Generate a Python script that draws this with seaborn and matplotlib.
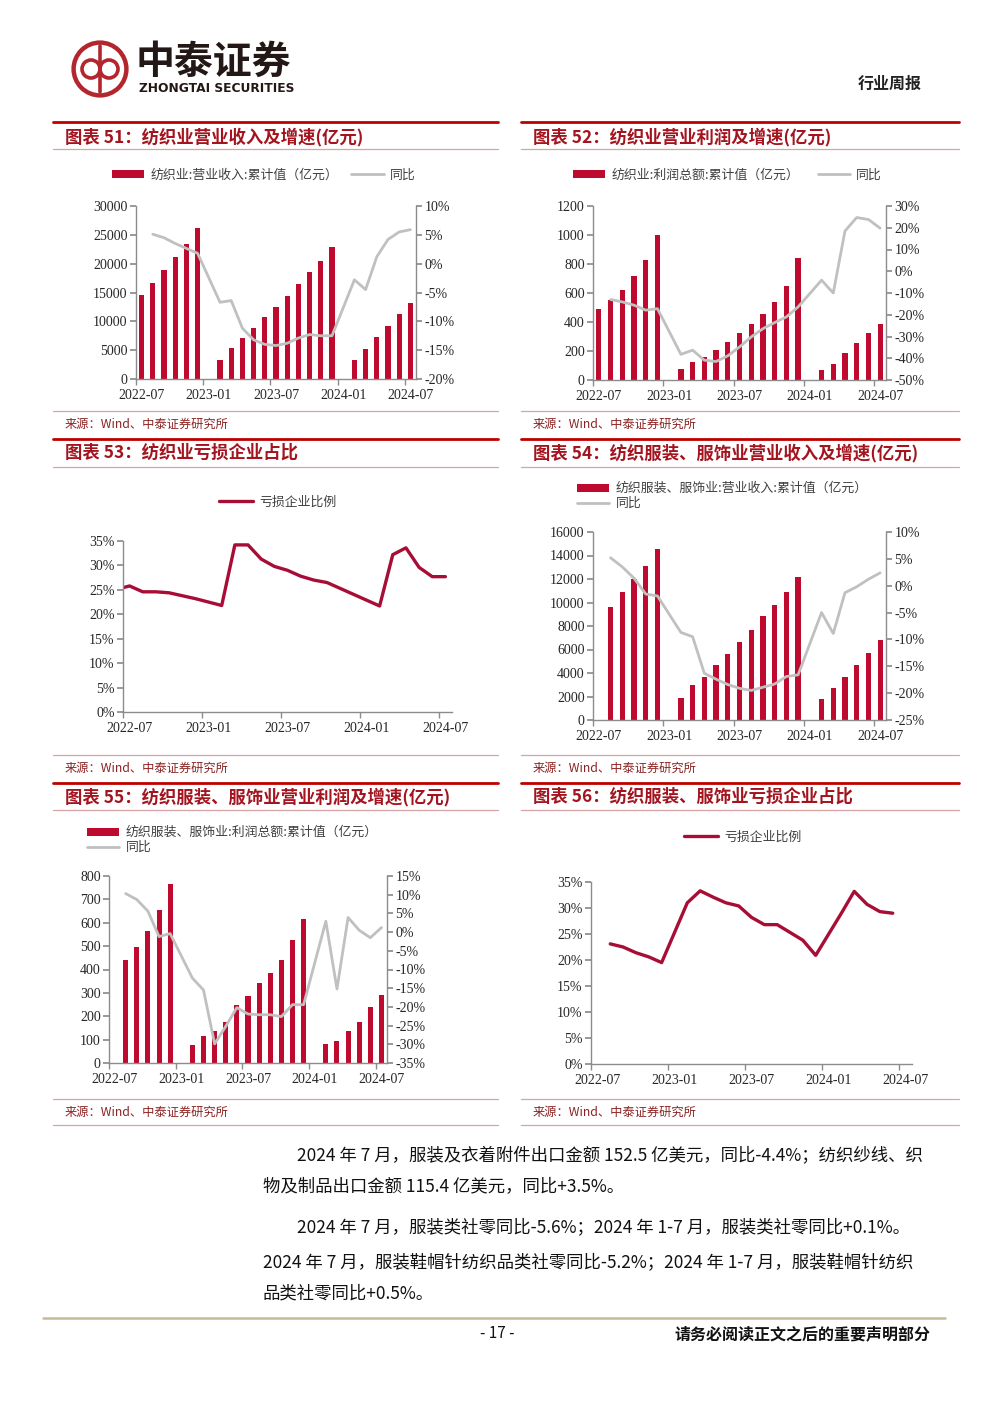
import numpy as np
import pandas as pd
import matplotlib
matplotlib.use("Agg")
import matplotlib.pyplot as plt
import seaborn as sns
from matplotlib.patches import Patch, Circle
from matplotlib.lines import Line2D
from matplotlib.ticker import FuncFormatter, MultipleLocator

nan = np.nan

# ---------------- data ----------------
MONTHS = ["2022-07", "2022-08", "2022-09", "2022-10", "2022-11", "2022-12",
          "2023-01", "2023-02", "2023-03", "2023-04", "2023-05", "2023-06",
          "2023-07", "2023-08", "2023-09", "2023-10", "2023-11", "2023-12",
          "2024-01", "2024-02", "2024-03", "2024-04", "2024-05", "2024-06", "2024-07"]
MONTHS_53 = ["2022-06"] + MONTHS
TICK_LABELS = ["2022-07", "2023-01", "2023-07", "2024-01", "2024-07"]

# 图表51 纺织业营业收入累计值(亿元) / 同比(%)
c51_rev = [14560, 16640, 18940, 21070, 23370, 26140, nan, 3340, 5410, 7140, 8810, 10710,
           12490, 14450, 16520, 18480, 20500, 22860, nan, 3220, 5240, 7200, 9210, 11280, 13240]
c51_yoy = [nan, 5.1, 4.5, 3.5, 2.65, 1.8, nan, -6.7, -6.4, -11.2, -13.2, -14.0,
           -14.2, -13.8, -12.9, -12.3, -12.5, -12.5, nan, -2.8, -4.5, 1.2, 4.2, 5.5, 5.9]

# 图表52 纺织业利润总额累计值(亿元) / 同比(%)
c52_profit = [487, 549, 623, 717, 830, 998, nan, 74, 124, 159, 205, 264,
              322, 386, 455, 540, 651, 839, nan, 69, 113, 186, 257, 324, 386]
c52_yoy = [nan, -13.0, -14.1, -15.6, -17.9, -17.2, nan, -38.2, -36.3, -40.9, -41.5, -38.9,
           -34.8, -30.2, -26.4, -23.6, -21.0, -16.4, nan, -4.1, -10.0, 18.5, 24.7, 23.8, 19.8]

# 图表53 纺织业亏损企业比例(%)
c53_loss = [25.1, 25.8, 24.6, 24.6, 24.4, 23.8, 23.2, nan, 21.8, 34.2, 34.2, 31.3, 29.8,
            29.0, 27.8, 27.0, 26.5, 25.3, 24.1, nan, 21.7, 32.2, 33.6, 29.6, 27.7, 27.7]

# 图表54 纺织服装、服饰业营业收入累计值(亿元) / 同比(%)
c54_rev = [nan, 9590, 10870, 12000, 13100, 14580, nan, 1870, 3000, 3690, 4650, 5650,
           6640, 7690, 8850, 9790, 10890, 12140, nan, 1790, 2720, 3690, 4650, 5700, 6780]
c54_yoy = [nan, 5.2, 3.5, 1.4, -1.55, -1.9, nan, -8.7, -9.5, -16.3, -17.4, -18.4,
           -19.1, -19.5, -18.9, -18.3, -16.9, -16.6, nan, -5.0, -8.9, -1.3, -0.2, 1.2, 2.4]

# 图表55 纺织服装、服饰业利润总额累计值(亿元) / 同比(%)
c55_profit = [nan, 439, 496, 563, 656, 764, nan, 78, 115, 135, 175, 246,
              288, 341, 385, 439, 527, 614, nan, 80, 95, 139, 175, 240, 293]
c55_yoy = [nan, 10.3, 8.7, 5.6, -1.2, -0.4, nan, -12.3, -15.5, -29.9, -25.2, -20.2,
           -21.9, -22.1, -22.1, -22.6, -19.4, -19.4, nan, 2.9, -15.2, 3.9, 0.5, -1.5, 1.2]

# 图表56 纺织服装、服饰业亏损企业比例(%)
c56_loss = [nan, 23.1, 22.5, 21.4, 20.6, 19.5, nan, 31.0, 33.3, 32.1, 31.0, 30.4,
            28.2, 26.8, 26.8, 25.3, 23.8, 20.9, nan, 29.0, 33.2, 30.7, 29.3, 29.0, nan]

# ---------------- style ----------------
RED = "#BE0A2E"
LINE_RED = "#A80D36"
GRAY = "#C0C0C0"
SPINE = "#8C8C8C"
TXT = "#262626"
TITLE_RED = "#A3141F"
SRC = "#8B2323"

sns.set_theme(style="white")
plt.rcParams['font.family'] = ['Liberation Serif', 'Noto Sans CJK SC', 'DejaVu Sans']
plt.rcParams['axes.unicode_minus'] = False
CJK = ['Noto Sans CJK SC', 'DejaVu Sans']

W, H = 1000, 1413
fig = plt.figure(figsize=(W / 100, H / 100), dpi=100)
fig.patch.set_facecolor("white")


def month_idx(m):
    y, mo = m.split("-")
    return (int(y) - 2022) * 12 + int(mo) - 7


def frame(months, **cols):
    df = pd.DataFrame({"m": months, **cols})
    df["x"] = df["m"].map(month_idx)
    return df


def rect(l, t, r, b):
    return [l / W, 1 - b / H, (r - l) / W, (b - t) / H]


def T(x, y, s, **kw):
    kw.setdefault("va", "center")
    fig.text(x / W, 1 - y / H, s, **kw)


def HL(x0, x1, y, color, lw):
    fig.add_artist(Line2D([x0 / W, x1 / W], [1 - y / H, 1 - y / H], color=color, lw=lw,
                          transform=fig.transFigure))


pct = FuncFormatter(lambda v, p: f"{v:.0f}%")
TICK_FS = 10


def style_x(ax):
    ax.set_xlim(-0.5, 24.5)
    ax.set_xticks([month_idx(m) for m in TICK_LABELS])
    ax.set_xticklabels(TICK_LABELS)
    ax.set_xticks([month_idx(m) - 0.5 for m in TICK_LABELS], minor=True)
    ax.tick_params(axis="x", which="major", bottom=True, length=0, pad=7, labelsize=TICK_FS,
                   labelcolor=TXT)
    ax.tick_params(axis="x", which="minor", bottom=True, length=4, direction="out", color=SPINE,
                   width=1)
    ax.set_xlabel("")


def bar_line(r, df, ymax, ystep, rlim, rstep):
    ax = fig.add_axes(r)
    sns.barplot(data=df.dropna(subset=["val"]), x="x", y="val", native_scale=True, width=0.45,
                color=RED, saturation=1, errorbar=None, ax=ax, linewidth=0)
    ax2 = ax.twinx()
    sns.lineplot(data=df.dropna(subset=["yoy"]), x="x", y="yoy", color=GRAY, linewidth=2.0,
                 ax=ax2)
    ax.set_ylim(0, ymax)
    ax.yaxis.set_major_locator(MultipleLocator(ystep))
    ax2.set_ylim(*rlim)
    ax2.yaxis.set_major_locator(MultipleLocator(rstep))
    ax2.yaxis.set_major_formatter(pct)
    for a in (ax, ax2):
        a.set_ylabel("")
        a.set_xlabel("")
        a.spines["top"].set_visible(False)
        for s in a.spines.values():
            s.set_color(SPINE)
            s.set_linewidth(1)
    ax2.spines["left"].set_visible(False)
    ax2.spines["bottom"].set_visible(False)
    ax.spines["right"].set_visible(False)
    ax.tick_params(axis="y", left=True, length=4, direction="out", color=SPINE, labelsize=TICK_FS,
                   labelcolor=TXT, pad=2)
    ax2.tick_params(axis="y", right=True, left=False, length=4, direction="out", color=SPINE,
                    labelsize=TICK_FS, labelcolor=TXT, pad=2)
    style_x(ax)
    ax.set_xlim(-0.5, 24.5)
    return ax, ax2


def loss_line(r, df):
    ax = fig.add_axes(r)
    sns.lineplot(data=df.dropna(subset=["val"]), x="x", y="val", color=LINE_RED, linewidth=2.4,
                 ax=ax)
    ax.set_ylim(0, 35)
    ax.yaxis.set_major_locator(MultipleLocator(5))
    ax.yaxis.set_major_formatter(pct)
    ax.set_ylabel("")
    for k in ("top", "right"):
        ax.spines[k].set_visible(False)
    for k in ("left", "bottom"):
        ax.spines[k].set_color(SPINE)
        ax.spines[k].set_linewidth(1)
    ax.tick_params(axis="y", left=True, length=4, direction="out", color=SPINE, labelsize=TICK_FS,
                   labelcolor=TXT, pad=2)
    style_x(ax)
    return ax


LEG_FS = 9.3


def legend_bar(x, y, labels, ncol, colsp=1.0):
    handles = [Patch(facecolor=RED, edgecolor="none"),
               Line2D([0], [0], color=GRAY, lw=2.0)]
    fig.legend(handles, labels, loc="center left", bbox_to_anchor=(x / W, 1 - y / H),
               frameon=False, ncol=ncol, borderpad=0, borderaxespad=0, handlelength=2.5,
               handleheight=0.55, handletextpad=0.5, columnspacing=colsp, labelspacing=0.12,
               prop={"family": CJK, "size": LEG_FS}, labelcolor="#404040")


def legend_line(x, y, label):
    fig.legend([Line2D([0], [0], color=LINE_RED, lw=2.4)], [label], loc="center left",
               bbox_to_anchor=(x / W, 1 - y / H), frameon=False, borderpad=0,
               borderaxespad=0, handlelength=2.6, handletextpad=0.5,
               prop={"family": CJK, "size": LEG_FS}, labelcolor="#404040")


# ---------------- charts ----------------
bar_line(rect(136, 206, 416, 379), frame(MONTHS, val=c51_rev, yoy=c51_yoy),
         30000, 5000, (-20, 10), 5)
legend_bar(112, 175, ["纺织业:营业收入:累计值（亿元）", "同比"], 2, 1.0)

bar_line(rect(593, 206, 886, 380), frame(MONTHS, val=c52_profit, yoy=c52_yoy),
         1200, 200, (-50, 30), 10)
legend_bar(573, 175, ["纺织业:利润总额:累计值（亿元）", "同比"], 2, 1.4)

loss_line(rect(123, 541, 452, 712), frame(MONTHS_53, val=c53_loss))
legend_line(219, 502, "亏损企业比例")

bar_line(rect(593, 532, 886, 720), frame(MONTHS, val=c54_rev, yoy=c54_yoy),
         16000, 2000, (-25, 10), 5)
legend_bar(577, 496, ["纺织服装、服饰业:营业收入:累计值（亿元）", "同比"], 1)

bar_line(rect(109, 876, 387, 1063), frame(MONTHS, val=c55_profit, yoy=c55_yoy),
         800, 100, (-35, 15), 5)
legend_bar(87, 840, ["纺织服装、服饰业:利润总额:累计值（亿元）", "同比"], 1)

loss_line(rect(591, 882, 912, 1064), frame(MONTHS, val=c56_loss))
legend_line(684, 837, "亏损企业比例")

# ---------------- page furniture ----------------
# logo
lax = fig.add_axes([70 / W, 1 - 99 / H, 60 / W, 60 / H])
lax.set_xlim(-1, 1)
lax.set_ylim(-1, 1)
lax.set_aspect("equal")
lax.axis("off")
LOGO = "#B3262D"
lax.add_patch(Circle((0, 0), 0.88, fill=False, lw=3.2, color=LOGO))
lax.add_patch(Circle((-0.3, 0.0), 0.3, fill=False, lw=2.6, color=LOGO))
lax.add_patch(Circle((0.3, 0.0), 0.3, fill=False, lw=2.6, color=LOGO))
lax.plot([0, 0], [-0.78, 0.78], color=LOGO, lw=2.6)

T(136, 62, "中泰证券", fontsize=28, fontweight="bold", color="#231815", family=CJK)
T(139, 88, "ZHONGTAI SECURITIES", fontsize=8.8, fontweight="bold", color="#231815",
  family=["DejaVu Sans"])
T(922, 84, "行业周报", fontsize=11.5, fontweight="bold", color="#222222", family=CJK, ha="right")

blocks = [(53, 498, 65), (521, 959, 533)]
titles = [("图表 51：纺织业营业收入及增速(亿元)", "图表 52：纺织业营业利润及增速(亿元)"),
          ("图表 53：纺织业亏损企业占比", "图表 54：纺织服装、服饰业营业收入及增速(亿元)"),
          ("图表 55：纺织服装、服饰业营业利润及增速(亿元)", "图表 56：纺织服装、服饰业亏损企业占比")]
title_y = [(122, 137, 149), (439, 453, 467), (783, 797, 810)]
src_y = [(411, 424), (755, 768), (1099, 1112)]

for row in range(3):
    ty0, ty1, ty2 = title_y[row]
    sy0, sy1 = src_y[row]
    for b, (x0, x1, tx) in enumerate(blocks):
        HL(x0, x1, ty0, "#C00000", 2.0)
        T(tx, ty1, titles[row][b], fontsize=12.5, fontweight="bold", style="italic",
          color=TITLE_RED, family=CJK)
        HL(x0, x1, ty2, "#D7A3A3", 0.9)
        HL(x0, x1, sy0, "#D7A3A3", 0.9)
        T(tx, sy1, "来源：Wind、中泰证券研究所", fontsize=8.8, color=SRC, family=CJK)
        if row == 2:
            HL(x0, x1, 1125, "#D7A3A3", 0.9)

# body text
BODY = ['Liberation Sans Narrow', 'Noto Sans CJK SC', 'DejaVu Sans']
body = [(297, 1155, "2024 年 7 月，服装及衣着附件出口金额 152.5 亿美元，同比-4.4%；纺织纱线、织"),
        (263, 1186, "物及制品出口金额 115.4 亿美元，同比+3.5%。"),
        (297, 1227, "2024 年 7 月，服装类社零同比-5.6%；2024 年 1-7 月，服装类社零同比+0.1%。"),
        (263, 1262, "2024 年 7 月，服装鞋帽针纺织品类社零同比-5.2%；2024 年 1-7 月，服装鞋帽针纺织"),
        (263, 1293, "品类社零同比+0.5%。")]
for x, y, s in body:
    T(x, y, s, fontsize=12.5, color="#111111", family=BODY)

# footer
HL(43, 945, 1318, "#CBB99C", 1.8)
T(497, 1334, "- 17 -", fontsize=11, color="#111111", family=BODY, ha="center")
T(930, 1334, "请务必阅读正文之后的重要声明部分", fontsize=11.5, fontweight="bold",
  color="#111111", family=CJK, ha="right")

fig.savefig("out.png", dpi=100, facecolor="white")
